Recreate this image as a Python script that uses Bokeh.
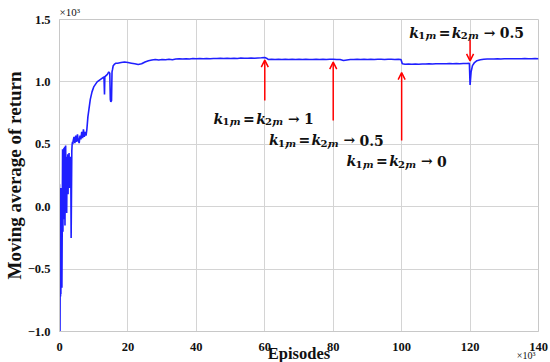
import numpy as np
from bokeh.plotting import figure
from bokeh.models import Range1d, Label, Arrow, OpenHead, FixedTicker, ColumnDataSource, Title
from bokeh.embed import file_html
from bokeh.resources import INLINE

# ---------------- data (x in 10^3 episodes, y in 10^3 return) ----------------
episodes = [
    0.0, 0.05, 0.1, 0.15, 0.2, 0.25, 0.3, 0.35, 0.4, 0.45, 0.5, 0.6, 0.7, 0.8, 0.9,
    1.0, 1.1, 1.2, 1.3, 1.4, 1.5, 1.6, 1.7, 1.8, 1.9, 2.0, 2.1, 2.2, 2.3, 2.4, 2.5,
    2.6, 2.7, 2.8, 2.9, 3.0, 3.1, 3.2, 3.3, 3.4, 3.5, 3.6, 3.7, 3.8, 3.9,
    4.0, 4.25, 4.5, 4.75, 5.0, 5.25, 5.5, 5.75, 6.0, 6.25, 6.5, 6.75, 7.0, 7.25, 7.5,
    7.75, 8.0, 8.3, 8.6, 9.0, 9.5, 10.0, 10.5, 11.0, 11.5, 12.0, 12.5, 13.0, 13.15,
    13.25, 13.6, 14.0, 14.4, 14.7, 14.85, 15.0, 15.2, 15.35, 15.5, 15.7, 16.0, 16.5,
    17, 18, 19, 20, 21, 22, 23, 24, 25, 26, 27, 28, 29, 30, 31, 32, 33, 34, 35, 36,
    37, 38, 39, 40, 41, 42, 43, 44, 45, 46, 47, 48, 49, 50, 51, 52, 53, 54, 55, 56,
    57, 58, 59, 60, 60.5, 61, 62, 63, 64, 65, 66, 67, 68, 69, 70, 71, 72, 73, 74, 75,
    76, 77, 78, 79, 80, 81, 82, 83, 84, 85, 86, 87, 88, 89, 90, 91, 92, 93, 94, 95,
    96, 97, 98, 99, 99.8, 100.2, 101, 102, 103, 104, 105, 106, 107, 108, 109, 110,
    111, 112, 113, 114, 115, 116, 117, 118, 119, 119.8, 120.0, 120.3, 120.7, 121.3,
    122, 123, 124, 125, 126, 127, 128, 129, 130, 131, 132, 133, 134, 135, 136, 137,
    138, 139, 140,
]
moving_avg = [
    0.18, -0.62, -0.3, -1.0, -0.6, -0.45, -0.72, -0.5, -0.7, 0.15, -0.55, -0.3, -0.65, -0.15, 0.46,
    -0.2, 0.3, -0.1, 0.47, 0.05, 0.48, -0.15, 0.35, 0.49, 0.1, 0.4, -0.05, 0.3, 0.15, 0.42, 0.1,
    0.3, 0.2, 0.43, 0.15, 0.38, 0.25, 0.4, 0.3, -0.25, 0.1, 0.45, 0.5, 0.52, 0.5,
    0.53, 0.56, 0.51, 0.57, 0.52, 0.58, 0.53, 0.51, 0.57, 0.54, 0.6, 0.55, 0.62, 0.56, 0.6,
    0.57, 0.62, 0.72, 0.78, 0.86, 0.92, 0.96, 0.98, 1.0, 1.01, 1.02, 1.03, 1.04, 0.9,
    1.04, 1.05, 1.06, 1.08, 1.07, 0.86, 0.84, 0.85, 1.08, 1.1, 1.13, 1.14, 1.15,
    1.15, 1.155, 1.16, 1.155, 1.15, 1.145, 1.14, 1.145, 1.16, 1.17, 1.175, 1.18, 1.175, 1.18, 1.178, 1.182, 1.178, 1.183, 1.185, 1.183,
    1.186, 1.184, 1.187, 1.185, 1.187, 1.186, 1.188, 1.186, 1.188, 1.187, 1.189, 1.187, 1.19, 1.188, 1.19, 1.188, 1.191, 1.189, 1.19, 1.191,
    1.19, 1.192, 1.193, 1.195, 1.19, 1.18, 1.181, 1.179, 1.181, 1.18, 1.182, 1.179, 1.181, 1.18, 1.182, 1.18, 1.181, 1.179, 1.18, 1.182,
    1.18, 1.181, 1.18, 1.182, 1.181, 1.18, 1.179, 1.172, 1.176, 1.179, 1.18, 1.181, 1.18, 1.182, 1.18, 1.181, 1.18, 1.182, 1.181, 1.18,
    1.182, 1.181, 1.18, 1.181, 1.18, 1.145, 1.142, 1.143, 1.141, 1.143, 1.142, 1.144, 1.143, 1.145, 1.144, 1.146,
    1.145, 1.146, 1.145, 1.147, 1.146, 1.147, 1.146, 1.148, 1.147, 1.15, 0.975, 1.08, 1.13, 1.155,
    1.17, 1.178, 1.182, 1.183, 1.184, 1.183, 1.185, 1.184, 1.185, 1.186, 1.185, 1.186, 1.185, 1.186, 1.187, 1.186,
    1.186, 1.187, 1.186,
]

x_ticks = [0, 20, 40, 60, 80, 100, 120, 140]
y_ticks = [-1.0, -0.5, 0.0, 0.5, 1.0, 1.5]
y_tick_labels = ["\u22121.0", "\u22120.5", "0.0", "0.5", "1.0", "1.5"]

# annotation arrows (x position, tail y, head y)
arrow_x = [60, 80, 100, 120]
arrow_tail = [0.85, 0.69, 0.53, 1.34]
arrow_head = [1.175, 1.158, 1.075, 1.168]

# annotation labels: k_{1,m} = k_{2,m} -> value
label_values = ["1", "0.5", "0", "0.5"]
label_x = [45.0, 61.2, 83.9, 102.2]
label_y = [0.705, 0.534, 0.366, 1.394]

# ---------------- figure ----------------
p = figure(width=550, height=362, output_backend="svg", toolbar_location=None,
           x_range=Range1d(0, 140), y_range=Range1d(-1.0, 1.5),
           min_border_left=57, min_border_right=12, min_border_top=19, min_border_bottom=31)
p.background_fill_color = "white"
p.border_fill_color = "white"
p.outline_line_color = "#c8c8c8"
p.outline_line_width = 1

src = ColumnDataSource(dict(x=episodes, y=moving_avg))
p.line("x", "y", source=src, line_color="#1f1fff", line_width=1.6)

for ax in (p.xaxis[0], p.yaxis[0]):
    ax.axis_line_color = "#c8c8c8"
    ax.major_tick_line_color = None
    ax.minor_tick_line_color = None
    ax.major_label_text_font = "Liberation Serif"
    ax.major_label_text_font_style = "bold"
    ax.major_label_text_font_size = "12.5px"
    ax.major_label_text_color = "#111111"

p.xaxis.ticker = FixedTicker(ticks=x_ticks)
p.yaxis.ticker = FixedTicker(ticks=y_ticks)
p.yaxis.major_label_overrides = {t: l for t, l in zip(y_ticks, y_tick_labels)}
p.xaxis.major_label_standoff = 5
p.yaxis.major_label_standoff = 3

p.yaxis.axis_label = "Moving average of return"
p.yaxis.axis_label_standoff = 0
p.yaxis.axis_label_text_font = "Liberation Serif"
p.yaxis.axis_label_text_font_style = "bold"
p.yaxis.axis_label_text_font_size = "19px"
p.yaxis.axis_label_text_color = "#111111"

p.xgrid.ticker = FixedTicker(ticks=x_ticks)
p.ygrid.ticker = FixedTicker(ticks=y_ticks)
p.grid.grid_line_color = "#d4d4d4"
p.grid.grid_line_width = 1

# scale factor note above the y axis
p.title.text = "\u00d710\u00b3"
p.title.align = "left"
p.title.vertical_align = "bottom"
p.title.standoff = 4
p.title.text_font = "Liberation Serif"
p.title.text_font_style = "normal"
p.title.text_font_size = "11px"
p.title.text_color = "#111111"

# x axis title and scale factor (below panels)
p.add_layout(Title(text="Episodes", align="center", vertical_align="top", standoff=-19,
                   text_font="Liberation Serif", text_font_style="bold",
                   text_font_size="16.5px", text_color="#111111"), "below")
p.add_layout(Title(text="\u00d710\u00b3", align="right", vertical_align="top", standoff=-12,
                   offset=3, text_font="Liberation Serif", text_font_style="normal",
                   text_font_size="10px", text_color="#111111"), "below")

# arrows
for ax_, t_, h_ in zip(arrow_x, arrow_tail, arrow_head):
    p.add_layout(Arrow(x_start=ax_, y_start=t_, x_end=ax_, y_end=h_,
                       line_color="red", line_width=1.5,
                       end=OpenHead(size=7, line_color="red", line_width=1.5)))

# composite math labels
MATH_FONT = "DejaVu Serif"
pieces = [
    ("k", 0.0, 0, "14px", "bold italic"),
    ("1,", 9.0, -3, "10px", "bold"),
    ("m", 16.5, -3, "10px", "bold italic"),
    ("=", 29.5, 0, "14px", "bold"),
    ("k", 42.7, 0, "14px", "bold italic"),
    ("2,", 51.5, -3, "10px", "bold"),
    ("m", 59.0, -3, "10px", "bold italic"),
    ("\u2192", 74.5, 0, "14px", "bold"),
]
for lx, ly, val in zip(label_x, label_y, label_values):
    for txt, dx, dy, fs, st in pieces:
        p.add_layout(Label(x=lx, y=ly, text=txt, x_offset=dx, y_offset=dy,
                           text_align="left", text_baseline="alphabetic",
                           text_font=MATH_FONT, text_font_style=st,
                           text_font_size=fs, text_color="#111111"))
    p.add_layout(Label(x=lx, y=ly, text=val, x_offset=90.5, y_offset=0,
                       text_align="left", text_baseline="alphabetic",
                       text_font=MATH_FONT, text_font_style="bold",
                       text_font_size="14px", text_color="#111111"))

open("out.html", "w").write(file_html(p, INLINE))
